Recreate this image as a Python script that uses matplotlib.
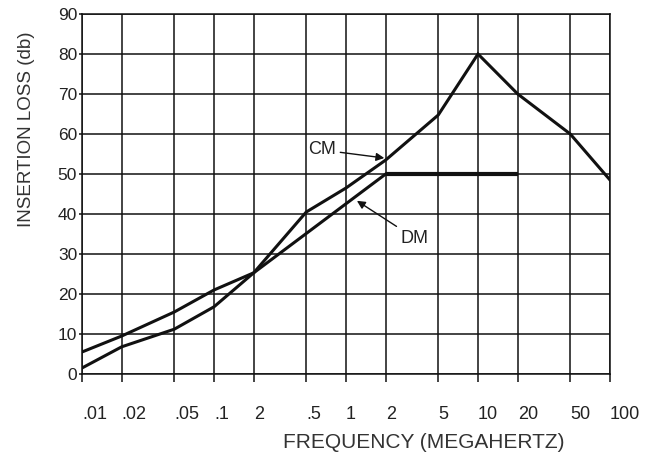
import matplotlib

matplotlib.use("Agg")
import matplotlib.pyplot as plt
from matplotlib.ticker import NullLocator

# ---------------------------------------------------------------------------
# Data
# ---------------------------------------------------------------------------

freq_ticks = [0.01, 0.02, 0.05, 0.1, 0.2, 0.5, 1, 2, 5, 10, 20, 50, 100]
# the original chart labels 0.2 MHz as "2"
freq_labels = [".01", ".02", ".05", ".1", "2", ".5", "1", "2", "5", "10", "20", "50", "100"]
loss_ticks = [0, 10, 20, 30, 40, 50, 60, 70, 80, 90]

cm_freq = [0.01, 0.02, 0.05, 0.1, 0.2, 0.5, 1, 2, 5, 10, 20, 50, 100]
cm_loss = [1.5, 6.8, 11.2, 16.8, 25.3, 40.5, 46.5, 53.5, 64.75, 80, 70, 60, 48.5]

dm_freq = [0.01, 0.02, 0.05, 0.1, 0.2, 2, 20]
dm_loss = [5.5, 9.5, 15.5, 21, 25.3, 50, 50]

W, H = 653, 458

plt.rcParams["font.family"] = ["Liberation Sans", "DejaVu Sans"]

fig = plt.figure(figsize=(W / 100, H / 100), dpi=100)
ax = fig.add_axes([82 / W, 84 / H, 528 / W, 360 / H])

ax.set_xscale("log")
ax.set_xlim(0.01, 100)
ax.set_ylim(0, 90)

ax.set_xticks(freq_ticks)
ax.set_xticklabels(freq_labels, ha="left")
ax.xaxis.set_minor_locator(NullLocator())
ax.set_yticks(loss_ticks)

ax.grid(True, which="major", color="#111111", lw=1.1)
ax.set_axisbelow(True)
for sp in ax.spines.values():
    sp.set_color("#111111")
    sp.set_linewidth(1.1)

ax.tick_params(axis="x", direction="out", length=6, width=1.1, pad=17,
               labelsize=13, colors="#111111", labelcolor="#222222")
ax.tick_params(axis="y", direction="out", length=2.5, width=1.1, pad=1,
               labelsize=12.5, colors="#111111", labelcolor="#222222")

# curves
ax.plot(cm_freq, cm_loss, color="#111111", lw=2.2, solid_joinstyle="miter")
ax.plot(dm_freq[:6], dm_loss[:6], color="#111111", lw=2.2)
ax.plot(dm_freq[5:], dm_loss[5:], color="#111111", lw=3.0, solid_capstyle="butt")

arrow = dict(arrowstyle="-|>", color="#111111", lw=1.0, mutation_scale=12,
             shrinkA=1, shrinkB=0)
ax.annotate("CM", xy=(1.95, 54), xytext=(0.66, 56), fontsize=13,
            color="#222222", ha="center", va="center", arrowprops=arrow)
ax.annotate("DM", xy=(1.21, 43.3), xytext=(3.3, 34), fontsize=13,
            color="#222222", ha="center", va="center", arrowprops=arrow)

fig.text(424 / W, 1 - 442 / H, "FREQUENCY (MEGAHERTZ)", fontsize=15,
         color="#333333", ha="center", va="center")
fig.text(27 / W, 1 - 129 / H, "INSERTION LOSS (db)", fontsize=13.5,
         color="#333333", ha="center", va="center", rotation=90)

fig.savefig("out.png", dpi=100)
